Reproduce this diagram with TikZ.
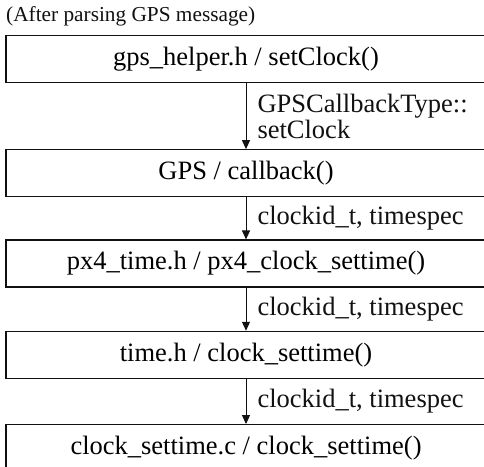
\documentclass[tikz,border=0pt]{standalone}
\usepackage{fontspec}
\setmainfont{Liberation Serif}
\usepackage{xcolor}
\usetikzlibrary{arrows.meta,positioning}
\definecolor{InkBlack}{HTML}{111111}
\tikzset{
  box/.style={draw=InkBlack, fill=white, line width=1.3pt, align=center, inner sep=4pt, minimum width=480pt, minimum height=47pt},
  arrow/.style={-{Triangle[length=9pt, width=8pt]}, line width=1pt, draw=InkBlack},
  lbl/.style={anchor=west, align=left, inner sep=0pt, xshift=11pt, text=InkBlack}
}

\begin{document}
\begin{tikzpicture}[node distance=43pt, every node/.style={font=\fontsize{26.5}{26}\selectfont}]
\useasboundingbox (0,0) rectangle (484pt,-466pt);
\node[anchor=base west, inner sep=0pt, text=InkBlack, font=\fontsize{21.3}{24}\selectfont] (title) at (6pt,-21pt) {(After parsing GPS message)};
\node[box] (gps) at (246pt,-59pt) {gps\_helper.h / setClock()};
\node[box, below=66pt of gps] (callback) {GPS / callback()};
\node[box, below=42pt of callback] (pxclock) {px4\_time.h / px4\_clock\_settime()};
\node[box, below=of pxclock] (timeh) {time.h / clock\_settime()};
\node[box, below=45pt of timeh] (settime) {clock\_settime.c / clock\_settime()};
\draw[arrow] (gps) -- (callback) node[midway, lbl] {GPSCallbackType::\\setClock};
\draw[arrow] (callback) -- (pxclock) node[midway, lbl] {clockid\_t, timespec};
\draw[arrow] (pxclock) -- (timeh) node[midway, lbl] {clockid\_t, timespec};
\draw[arrow] (timeh) -- (settime) node[midway, lbl] {clockid\_t, timespec};
\end{tikzpicture}
\end{document}
